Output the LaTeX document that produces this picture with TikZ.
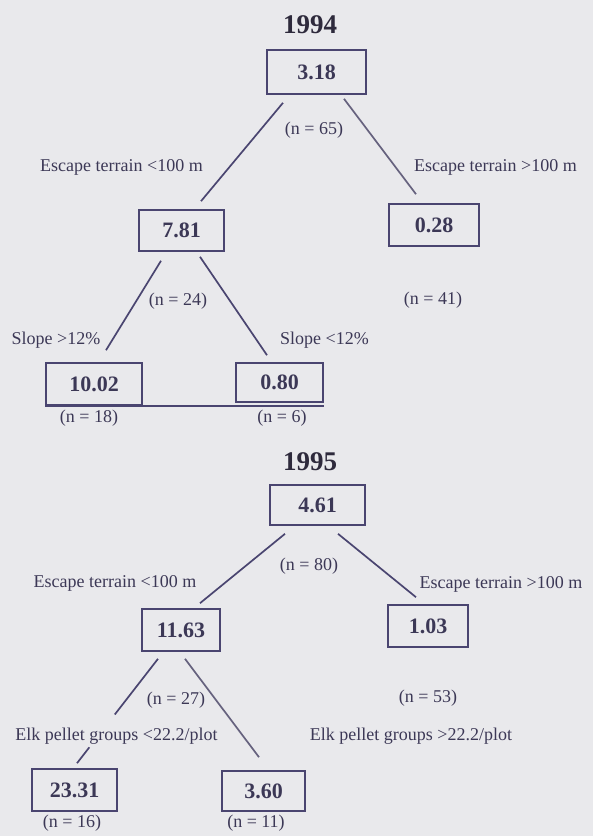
\documentclass[tikz,border=0pt]{standalone}
\usepackage{fontspec}
\setmainfont{Liberation Serif}
\usetikzlibrary{calc}
\definecolor{bg}{HTML}{E9E9EC}
\definecolor{ink}{HTML}{4A4570}
\definecolor{inkgrey}{HTML}{66627E}
\definecolor{txt}{HTML}{3C3856}
\definecolor{titleink}{HTML}{2E2A3C}
\tikzset{
  valbox/.style={draw=ink, line width=1.6pt, inner sep=0pt, text=txt,
    font=\fontsize{22}{24}\selectfont\bfseries},
  lbl/.style={inner sep=0pt, text=txt, font=\fontsize{18}{20}\selectfont},
  yeartitle/.style={inner sep=0pt, text=titleink, font=\fontsize{27}{30}\selectfont\bfseries},
  branch/.style={draw=ink, line width=1.7pt},
  branchgrey/.style={draw=inkgrey, line width=1.7pt}
}
\begin{document}
\begin{tikzpicture}[x=1pt, y=-1pt]
\useasboundingbox (0,0) rectangle (593,836);
\fill[bg] (0,0) rectangle (593,836);

% ---------------- 1994 ----------------
\node[yeartitle] (t94) at (310,25) {1994};
\node[valbox, minimum width=99pt, minimum height=44pt] (b318) at (316.5,72) {3.18};
\node[lbl] (n65) at (314,130) {(n = 65)};
\node[lbl] (e1l) at (121.5,167) {Escape terrain <100 m};
\node[lbl] (e1r) at (495.5,167) {Escape terrain >100 m};
\node[valbox, minimum width=85pt, minimum height=41pt] (b781) at (181.5,230.5) {7.81};
\node[valbox, minimum width=90pt, minimum height=42pt] (b028) at (434,225) {0.28};
\node[lbl] (n24) at (178,301) {(n = 24)};
\node[lbl] (n41) at (433,300) {(n = 41)};
\node[lbl] (s1g) at (56,340) {Slope >12\%};
\node[lbl] (s1l) at (324.5,340) {Slope <12\%};
\node[valbox, minimum width=96pt, minimum height=42pt] (b1002) at (94,384) {10.02};
\node[valbox, minimum width=87pt, minimum height=39pt] (b080) at (279.5,382.5) {0.80};
\node[lbl] (n18) at (89,418) {(n = 18)};
\node[lbl] (n6) at (282,418) {(n = 6)};

\draw[branch] ($(b318.south)+(-33.5,8)$) -- ($(b781.north)+(19.5,-8)$);
\draw[branchgrey] ($(b318.south)+(27.5,4)$) -- ($(b028.north)+(-18,-9)$);
\draw[branch] ($(b781.south)+(-20.5,9)$) -- ($(b1002.north)+(12,-12)$);
\draw[branch] ($(b781.south)+(18.5,5)$) -- ($(b080.north)+(-12.5,-7)$);
\draw[branch] (b1002.south west) -- (b1002.south west -| b080.east);

% ---------------- 1995 ----------------
\node[yeartitle] (t95) at (310,462) {1995};
\node[valbox, minimum width=95pt, minimum height=40pt] (b461) at (317.5,505) {4.61};
\node[lbl] (n80) at (309,566) {(n = 80)};
\node[lbl] (e2l) at (115,583) {Escape terrain <100 m};
\node[lbl] (e2r) at (501,584) {Escape terrain >100 m};
\node[valbox, minimum width=78pt, minimum height=42pt] (b1163) at (181,630) {11.63};
\node[valbox, minimum width=80pt, minimum height=42pt] (b103) at (428,626) {1.03};
\node[lbl] (n27) at (176,700) {(n = 27)};
\node[lbl] (n53) at (428,698) {(n = 53)};
\node[valbox, minimum width=85pt, minimum height=42pt] (b2331) at (74.5,790) {23.31};
\node[valbox, minimum width=83pt, minimum height=40pt] (b360) at (263.5,791) {3.60};
\node[lbl] (n16) at (72,823) {(n = 16)};
\node[lbl] (n11) at (256,823) {(n = 11)};

\draw[branch] ($(b461.south)+(-32.5,8)$) -- ($(b1163.north)+(19,-5)$);
\draw[branch] ($(b461.south)+(20.5,8)$) -- ($(b103.north)+(-12,-7)$);
\draw[branch, dash pattern=on 70.5pt off 41.5pt on 40pt] ($(b1163.south)+(-23,7)$) -- ($(b2331.north)+(2.5,-5)$);
\draw[branchgrey] ($(b1163.south)+(4,7)$) -- ($(b360.north)+(-4.5,-13)$);

\node[lbl] (elkl) at (116.5,736) {Elk pellet groups <22.2/plot};
\node[lbl] (elkr) at (411,736) {Elk pellet groups >22.2/plot};
\end{tikzpicture}
\end{document}
